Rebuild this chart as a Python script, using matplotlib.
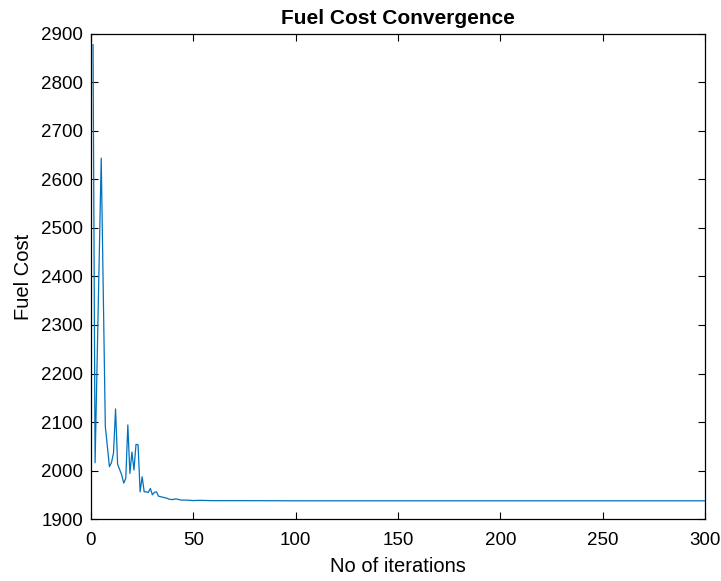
import matplotlib
matplotlib.use("Agg")
import matplotlib.pyplot as plt

plt.rcParams['font.family'] = ['Liberation Sans', 'DejaVu Sans']

#Fuel cost per iteration
iterations = [1, 2, 5, 6, 7, 9, 10, 11, 12, 13, 15, 16, 17, 18, 19, 20, 21, 22, 23,
              24, 25, 26, 27, 28, 29, 30, 31, 32, 33, 35, 37, 38, 40, 41, 42, 44,
              47, 50, 53, 60, 80, 100, 300]
fuel_cost = [2878, 2016, 2644, 2368, 2091, 2008, 2016, 2036, 2127, 2013, 1991, 1974,
             1984, 2094, 1994, 2038, 2001, 2054, 2053, 1956, 1987, 1956, 1956, 1955,
             1963, 1950, 1955, 1956, 1947, 1945, 1943, 1941, 1940, 1941.5, 1941,
             1939, 1939, 1938, 1938.5, 1937.8, 1937.8, 1937.5, 1937.5]

xticks = [0, 50, 100, 150, 200, 250, 300]
yticks = [1900, 2000, 2100, 2200, 2300, 2400, 2500, 2600, 2700, 2800, 2900]

fig = plt.figure(figsize=(7.21, 5.81), dpi=100)
ax = fig.add_axes([0.1262, 0.1067, 0.8516, 0.8348])
ax.plot(iterations, fuel_cost, color='#0072BD', linewidth=0.9)

ax.set_xlim(0, 300)
ax.set_ylim(1900, 2900)
ax.set_xticks(xticks)
ax.set_yticks(yticks)
ax.tick_params(direction='in', top=True, right=True, labelsize=13.5, length=5, width=0.8)
ax.tick_params(axis='x', pad=9)
ax.tick_params(axis='y', pad=5.5)
for s in ax.spines.values():
    s.set_linewidth(0.9)

ax.set_title('Fuel Cost Convergence', fontsize=15, fontweight='bold', pad=7.5)
ax.set_xlabel('No of iterations', fontsize=14.5, labelpad=6)
ax.set_ylabel('Fuel Cost', fontsize=14.5, labelpad=6)

fig.savefig('out.png', dpi=100)
